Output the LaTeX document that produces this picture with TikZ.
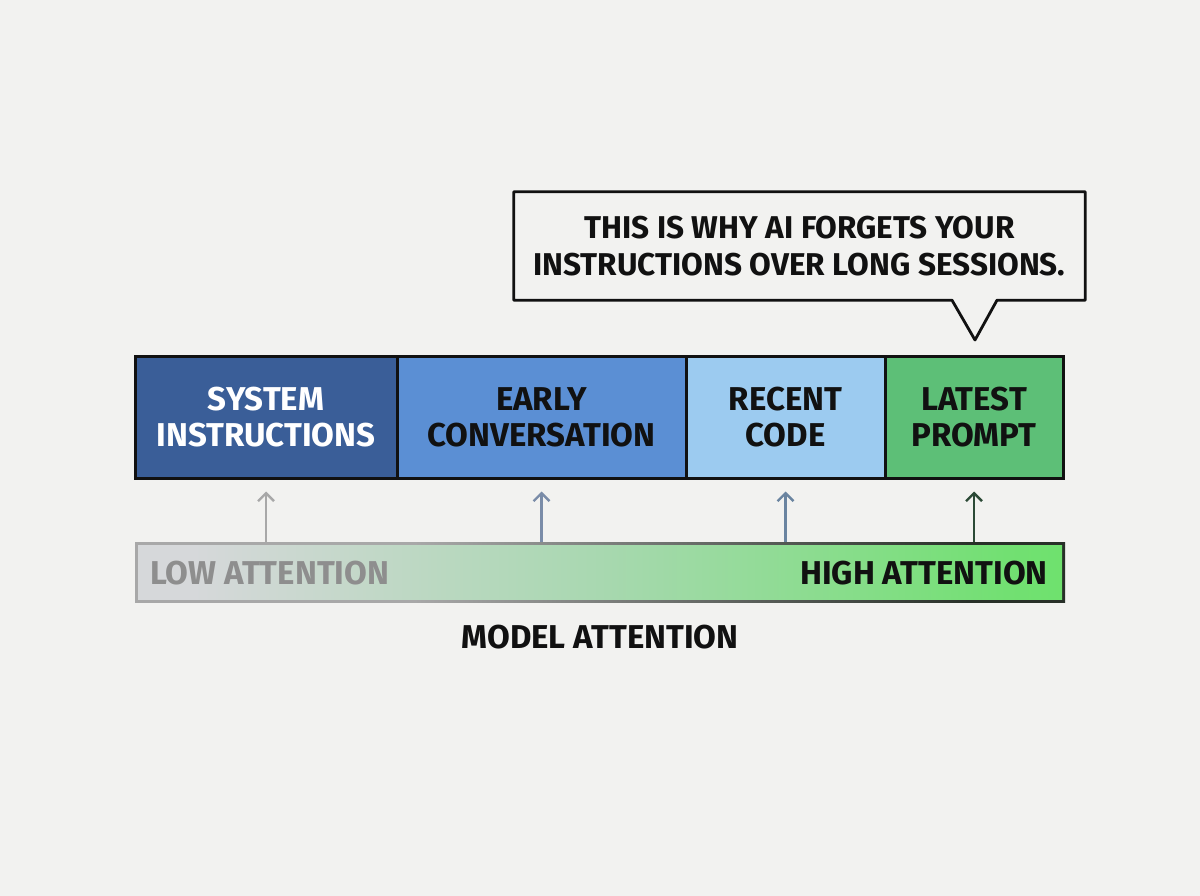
\documentclass[tikz,border=0pt]{standalone}
\usepackage{fontspec}
\setmainfont{Fira Sans}[UprightFont={* Bold}]
\usetikzlibrary{arrows.meta}
\definecolor{bgc}{HTML}{F2F2F0}
\definecolor{c1}{HTML}{3A5E98}
\definecolor{c2}{HTML}{5B8FD4}
\definecolor{c3}{HTML}{9CCBF0}
\definecolor{c4}{HTML}{5DBF77}
\definecolor{ink}{HTML}{111111}
\definecolor{ga}{HTML}{D6D8DA}
\definecolor{gb}{HTML}{A8D8B0}
\definecolor{gc}{HTML}{72E072}
\definecolor{gd}{HTML}{52EC4C}
\definecolor{ba}{HTML}{A8A8A8}
\definecolor{bb}{HTML}{283028}
\definecolor{a1}{HTML}{A8A8A8}
\definecolor{a2}{HTML}{7A8CA8}
\definecolor{a3}{HTML}{6A84A0}
\definecolor{a4}{HTML}{2C4A36}
\definecolor{lowc}{HTML}{8E8E8E}
\pgfdeclarehorizontalshading{attfill}{100bp}{color(0bp)=(ga); color(28bp)=(ga); color(50bp)=(gb); color(72bp)=(gc); color(100bp)=(gd)}
\pgfdeclarehorizontalshading{attborder}{100bp}{color(0bp)=(ba); color(40bp)=(ba); color(70bp)=(bb); color(100bp)=(bb)}
\tikzset{
  seg/.style={draw=ink, line width=3pt, inner sep=0pt, align=center,
    minimum height=122pt, font=\fontsize{33}{36}\selectfont},
  lbl/.style={inner sep=0pt, font=\fontsize{33}{36}\selectfont},
  attarrow/.style={line width=2.4pt, -{Straight Barb[length=8pt,width=16pt,line width=2.4pt]}}
}
\begin{document}
\begin{tikzpicture}[x=1pt,y=-1pt]
\useasboundingbox[fill=bgc] (0,0) rectangle (1200,896);
% segments
\node[seg, fill=c1, text=white, minimum width=262pt] (s1) at (266,417) {SYSTEM\\INSTRUCTIONS};
\node[seg, fill=c2, text=ink, minimum width=289pt] (s2) at (541.5,417) {EARLY\\CONVERSATION};
\node[seg, fill=c3, text=ink, minimum width=199pt] (s3) at (785.5,417) {RECENT\\CODE};
\node[seg, fill=c4, text=ink, minimum width=178pt] (s4) at (974,417) {LATEST\\PROMPT};
% attention bar
\node[inner sep=0pt, minimum width=930pt, minimum height=60pt, shading=attborder] (barout) at (600,572) {};
\node[inner sep=0pt, minimum width=924pt, minimum height=54pt, shading=attfill] (bar) at (600,572) {};
\node[lbl, text=lowc, anchor=west] (low) at (150,573) {LOW ATTENTION};
\node[lbl, text=ink, anchor=east] (high) at (1048,573) {HIGH ATTENTION};
\node[lbl, text=ink] (model) at (600,637) {MODEL ATTENTION};
% arrows
\draw[attarrow, a1] (barout.north -| s1.south) -- ([yshift=-12pt]s1.south);
\draw[attarrow, a2] (barout.north -| s2.south) -- ([yshift=-12pt]s2.south);
\draw[attarrow, a3] (barout.north -| s3.south) -- ([yshift=-12pt]s3.south);
\draw[attarrow, a4] (barout.north -| s4.south) -- ([yshift=-12pt]s4.south);
% callout
\node[inner sep=0pt, align=center, font=\fontsize{31.5}{37}\selectfont, minimum width=571pt, minimum height=108pt, text=ink] (call) at (799.5,246) {THIS IS WHY AI FORGETS YOUR\\INSTRUCTIONS OVER LONG SESSIONS.};
\coordinate (tip) at (975,340);
\draw[ink, line width=2.8pt, line join=round]
  (call.north west) -- (call.north east) -- (call.south east)
  -- (call.south -| 997,0) -- (tip) -- (call.south -| 952,0) -- (call.south west) -- cycle;
\end{tikzpicture}
\end{document}
